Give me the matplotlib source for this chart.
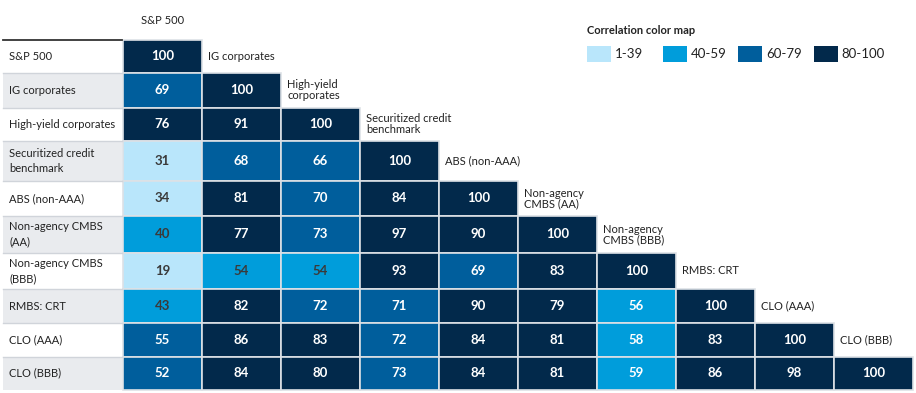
import numpy as np
import matplotlib.pyplot as plt
from matplotlib.patches import Rectangle

plt.rcParams['font.family'] = ['Lato', 'DejaVu Sans']

row_labels = ["S&P 500", "IG corporates", "High-yield corporates",
              "Securitized credit\nbenchmark", "ABS (non-AAA)",
              "Non-agency CMBS\n(AA)", "Non-agency CMBS\n(BBB)",
              "RMBS: CRT", "CLO (AAA)", "CLO (BBB)"]
col_labels = ["S&P 500", "IG corporates", "High-yield\ncorporates",
              "Securitized credit\nbenchmark", "ABS (non-AAA)",
              "Non-agency\nCMBS (AA)", "Non-agency\nCMBS (BBB)",
              "RMBS: CRT", "CLO (AAA)", "CLO (BBB)"]

values = [
    [100],
    [69, 100],
    [76, 91, 100],
    [31, 68, 66, 100],
    [34, 81, 70, 84, 100],
    [40, 77, 73, 97, 90, 100],
    [19, 54, 54, 93, 69, 83, 100],
    [43, 82, 72, 71, 90, 79, 56, 100],
    [55, 86, 83, 72, 84, 81, 58, 83, 100],
    [52, 84, 80, 73, 84, 81, 59, 86, 98, 100],
]
# colour bucket used for each cell in the original (0=1-39 ... 3=80-100)
buckets = [
    [3],
    [2, 3],
    [3, 3, 3],
    [0, 2, 2, 3],
    [0, 3, 2, 3, 3],
    [1, 3, 2, 3, 3, 3],
    [0, 1, 1, 3, 2, 3, 3],
    [1, 3, 2, 2, 3, 3, 1, 3],
    [2, 3, 3, 2, 3, 3, 1, 3, 3],
    [2, 3, 3, 2, 3, 3, 1, 3, 3, 3],
]
legend_labels = ["1-39", "40-59", "60-79", "80-100"]
colors = ["#B9E6FB", "#009DDB", "#005E9C", "#02294B"]

# layout (pixels)
row_h = [33, 35, 33.5, 40, 35, 37, 36, 34, 33.5, 33.5]
top = 39.5
y_edges = top + np.concatenate([[0], np.cumsum(row_h)])
x0, cw = 123, 79
lab_x0, lab_x1 = 3, 122

fig = plt.figure(figsize=(9.16, 3.93), dpi=100)
ax = fig.add_axes([0, 0, 1, 1])
ax.set_xlim(0, 916)
ax.set_ylim(393, 0)
ax.axis('off')

# row labels
for i, lab in enumerate(row_labels):
    y, h = y_edges[i], row_h[i]
    fc = '#E9EBEE' if i % 2 == 1 else 'white'
    ax.add_patch(Rectangle((lab_x0, y), lab_x1 - lab_x0, h, facecolor=fc,
                           edgecolor='none'))
    if i > 0:
        ax.plot([lab_x0, lab_x1], [y, y], color='#D0D4DA', lw=1)
    ax.text(lab_x0 + 6, y + h / 2, lab, ha='left', va='center',
            fontsize=8, color='#222222', linespacing=1.45)
ax.plot([lab_x0, lab_x1], [top, top], color='#333333', lw=1.3)

# cells
for i, row in enumerate(values):
    y, h = y_edges[i], row_h[i]
    for j, v in enumerate(row):
        b = buckets[i][j]
        ax.add_patch(Rectangle((x0 + j * cw, y), cw, h, facecolor=colors[b],
                               edgecolor='#DDE1E6', lw=1.2))
        tc = '#3A3A3A' if (b <= 1 and v < 55) else 'white'
        ax.text(x0 + j * cw + cw / 2, y + h / 2, str(v), ha='center',
                va='center', fontsize=9.5, fontweight='bold', color=tc)

# column labels
ax.text(x0 + cw / 2, 21, col_labels[0], ha='center', va='center',
        fontsize=8, color='#222222')
for j in range(1, len(col_labels)):
    y, h = y_edges[j - 1], row_h[j - 1]
    ax.text(x0 + j * cw + 6, y + h / 2, col_labels[j], ha='left',
            va='center', fontsize=8, color='#222222', linespacing=0.95)

# legend
ax.text(587, 31, "Correlation color map", ha='left', va='center',
        fontsize=8, fontweight='bold', color='#222222')
for k, (lab, c) in enumerate(zip(legend_labels, colors)):
    lx = 587 + k * 75.5
    ax.add_patch(Rectangle((lx, 46), 24, 16, facecolor=c, edgecolor='none'))
    ax.text(lx + 28, 54, lab, ha='left', va='center', fontsize=9.5,
            color='#222222')

fig.savefig('out.png', dpi=100)
